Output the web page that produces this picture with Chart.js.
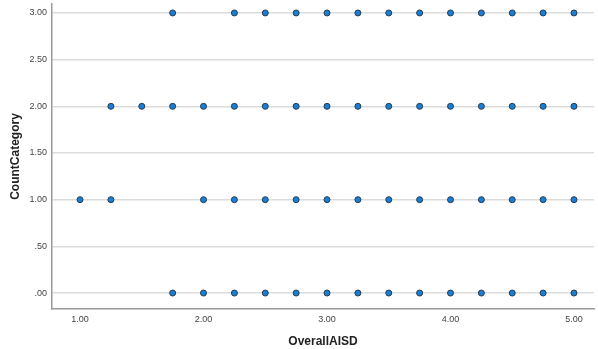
<!DOCTYPE html>
<html>
<head>
<meta charset="utf-8">
<script src="https://cdn.jsdelivr.net/npm/chart.js@4"></script>
<style>
  html, body { margin: 0; padding: 0; background: #fff; }
  #wrap { width: 598px; height: 349px; position: relative; }
</style>
</head>
<body>
<div id="wrap"><canvas id="chart"></canvas></div>
<script>
// Values (OverallAISD vs CountCategory)
const countCategories = [0, 1, 2, 3];
const xCount0 = [1.75, 2.0, 2.25, 2.5, 2.75, 3.0, 3.25, 3.5, 3.75, 4.0, 4.25, 4.5, 4.75, 5.0];
const xCount1 = [1.0, 1.25, 2.0, 2.25, 2.5, 2.75, 3.0, 3.25, 3.5, 3.75, 4.0, 4.25, 4.5, 4.75, 5.0];
const xCount2 = [1.25, 1.5, 1.75, 2.0, 2.25, 2.5, 2.75, 3.0, 3.25, 3.5, 3.75, 4.0, 4.25, 4.5, 4.75, 5.0];
const xCount3 = [1.75, 2.25, 2.5, 2.75, 3.0, 3.25, 3.5, 3.75, 4.0, 4.25, 4.5, 4.75, 5.0];
const xTicks = [1, 2, 3, 4, 5];
const yTicks = [0, 0.5, 1, 1.5, 2, 2.5, 3];

const rows = [xCount0, xCount1, xCount2, xCount3];
const points = [];
rows.forEach((xs, i) => {
  xs.forEach((x) => points.push({ x: x, y: countCategories[i] }));
});

// SPSS style: "1.00", ".50", ".00"
const spssFmt = (v) => Number(v).toFixed(2).replace(/^0\./, ".");

const tickFont = { family: "Liberation Sans, Arial, sans-serif", size: 9 };
const titleFont = { family: "Liberation Sans, Arial, sans-serif", size: 12, weight: "bold" };

new Chart(document.getElementById("chart"), {
  type: "scatter",
  data: {
    datasets: [{
      label: "CountCategory",
      data: points,
      backgroundColor: "#1a7fd4",
      borderColor: "#263b4f",
      borderWidth: 1,
      pointRadius: 3,
      pointHoverRadius: 3,
    }],
  },
  options: {
    responsive: true,
    maintainAspectRatio: false,
    animation: false,
    layout: { padding: 0 },
    plugins: { legend: { display: false }, tooltip: { enabled: false } },
    scales: {
      x: {
        type: "linear",
        min: 0.773,
        max: 5.162,
        afterBuildTicks: (axis) => { axis.ticks = xTicks.map((v) => ({ value: v })); },
        afterFit: (axis) => {
          axis.height = 40;
          axis.paddingLeft = 0;
          axis.paddingRight = 0;
        },
        grid: { display: false, drawTicks: false },
        border: { display: true, color: "#9a9a9a", width: 1.5 },
        ticks: { color: "#444", font: tickFont, padding: 5, maxRotation: 0, callback: (v) => spssFmt(v) },
        title: { display: true, text: "OverallAISD", color: "#222", font: titleFont, padding: { top: 5, bottom: 0 } },
      },
      y: {
        type: "linear",
        min: -0.171,
        max: 3.096,
        afterBuildTicks: (axis) => { axis.ticks = yTicks.map((v) => ({ value: v })); },
        afterFit: (axis) => {
          axis.width = 52;
          axis.paddingTop = 0;
          axis.paddingBottom = 0;
        },
        grid: { color: "#dcdcdc", lineWidth: 1.5, drawTicks: false },
        border: { display: true, color: "#9a9a9a", width: 1.5 },
        ticks: { color: "#444", font: tickFont, padding: 5, callback: (v) => spssFmt(v) },
        title: { display: true, text: "CountCategory", color: "#222", font: titleFont, padding: { top: 8, bottom: 4 } },
      },
    },
  },
});
</script>
</body>
</html>
